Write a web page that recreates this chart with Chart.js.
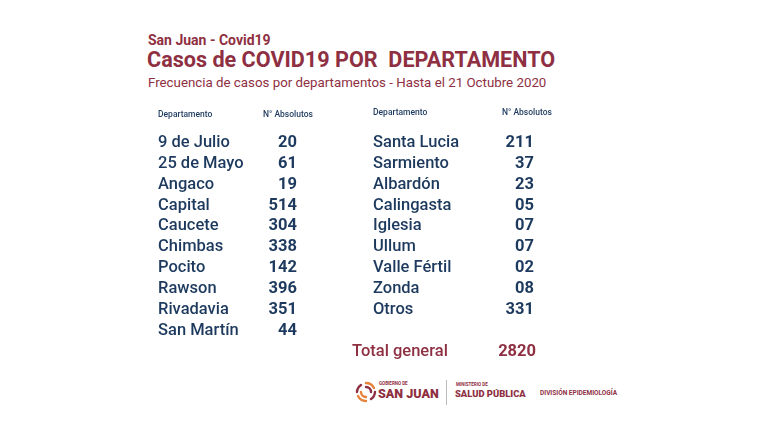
<!DOCTYPE html>
<html lang="es">
<head>
<meta charset="utf-8">
<script src="https://cdn.jsdelivr.net/npm/chart.js@4/dist/chart.umd.min.js"></script>
<style>
  html,body{margin:0;padding:0;background:#fff;}
  body{width:768px;height:439px;position:relative;overflow:hidden;font-family:Roboto,"Open Sans",sans-serif;}
  .t{position:absolute;white-space:pre;line-height:1;color:#8e2f42;}
  #wrap{position:absolute;left:140px;top:95px;width:440px;height:275px;}
</style>
</head>
<body>
<div class="t" style="left:148px;top:33px;font-size:14px;font-weight:700;">San Juan - Covid19</div>
<div class="t" style="left:147px;top:49px;font-size:21.6px;font-weight:700;">Casos de COVID19 POR  DEPARTAMENTO</div>
<div class="t" style="left:148px;top:76px;font-size:13.3px;font-weight:400;">Frecuencia de casos por departamentos - Hasta el 21 Octubre 2020</div>

<div id="wrap"><canvas id="c"></canvas></div>

<!-- footer -->
<svg style="position:absolute;left:354px;top:380px" width="24" height="24" viewBox="0 0 24 24">
  <g fill="none" stroke-width="2.4" stroke-linecap="round">
    <path d="M12 3 A9 9 0 0 1 20 8" stroke="#e8833a"/>
    <path d="M21 12 A9 9 0 0 1 17 19" stroke="#8e2f42"/>
    <path d="M12 21 A9 9 0 0 1 4 16" stroke="#e8833a"/>
    <path d="M3 12 A9 9 0 0 1 7 5" stroke="#8e2f42"/>
    <path d="M12 7 A5 5 0 0 1 17 12" stroke="#8e2f42"/>
    <path d="M12 17 A5 5 0 0 1 7 12" stroke="#e8833a"/>
  </g>
</svg>
<div class="t" style="left:379px;top:382px;font-size:4.5px;font-weight:700;">GOBIERNO DE</div>
<div class="t" style="left:378px;top:388px;font-size:12.5px;font-weight:900;">SAN JUAN</div>
<div style="position:absolute;left:446px;top:380px;width:1px;height:25px;background:#bbb;"></div>
<div class="t" style="left:456px;top:383px;font-size:4.5px;font-weight:700;">MINISTERIO DE</div>
<div class="t" style="left:455px;top:389px;font-size:9.4px;font-weight:900;">SALUD PÚBLICA</div>
<div class="t" style="left:540px;top:390px;font-size:6.5px;font-weight:700;">DIVISIÓN EPIDEMIOLOGÍA</div>

<script>
const headerDept = "Departamento";
const headerAbs = "N° Absolutos";
const leftDepts = ["9 de Julio","25 de Mayo","Angaco","Capital","Caucete","Chimbas","Pocito","Rawson","Rivadavia","San Martín"];
const leftValues = [20,61,19,514,304,338,142,396,351,44];
const rightDepts = ["Santa Lucia","Sarmiento","Albardón","Calingasta","Iglesia","Ullum","Valle Fértil","Zonda","Otros"];
const rightValues = [211,37,23,5,7,7,2,8,331];
const totalLabel = "Total general";
const totalValue = 2820;

const NAVY = "#1d3a5e";
const MAROON = "#8e2f42";

function fmt(v){ return String(v).padStart(2,"0"); }

const tablePlugin = {
  id: "tableText",
  afterDatasetsDraw(chart){
    const ctx = chart.ctx;
    const ys = chart.scales.y;
    ctx.save();
    chart.data.datasets.forEach((ds, di) => {
      const meta = chart.getDatasetMeta(di);
      const fs = ds.fontSize;
      meta.data.forEach((el, i) => {
        const baseY = el.y + fs * 0.355;
        ctx.fillStyle = ds.textColor;
        ctx.font = `${ds.nameWeight} ${fs}px Roboto`;
        ctx.textAlign = "left";
        ctx.fillText(ds.names[i], el.x + ds.nameOffset, baseY);
        ctx.font = `${ds.valueWeight} ${fs}px Roboto`;
        ctx.textAlign = "right";
        ctx.fillText(fmt(ds.values[i]), el.x + ds.valueOffset, baseY);
      });
      if (ds.header) {
        const el = meta.data[0];
        const hy = ys.getPixelForValue(ds.headerRow) + 8.5 * 0.355;
        ctx.fillStyle = NAVY;
        ctx.font = "500 8.5px Roboto";
        ctx.textAlign = "left";
        ctx.fillText(headerDept, el.x + ds.nameOffset, hy);
        ctx.fillText(headerAbs, el.x + ds.headerAbsOffset, hy);
      }
    });
    ctx.restore();
  }
};

const chart = new Chart(document.getElementById("c"), {
  type: "scatter",
  data: {
    datasets: [
      {
        data: leftDepts.map((d, i) => ({x: 0, y: i})),
        names: leftDepts, values: leftValues,
        nameOffset: 0, valueOffset: 139, headerAbsOffset: 105, header: true, headerRow: -1.3,
        fontSize: 16.5, nameWeight: 500, valueWeight: 700, textColor: NAVY,
        pointRadius: 0, pointHoverRadius: 0
      },
      {
        data: rightDepts.map((d, i) => ({x: 1, y: i})),
        names: rightDepts, values: rightValues,
        nameOffset: 0, valueOffset: 161, headerAbsOffset: 129, header: true, headerRow: -1.4,
        fontSize: 16.5, nameWeight: 500, valueWeight: 700, textColor: NAVY,
        pointRadius: 0, pointHoverRadius: 0
      },
      {
        data: [{x: 1, y: 10}],
        names: [totalLabel], values: [totalValue],
        nameOffset: -21, valueOffset: 163, header: false,
        fontSize: 16.5, nameWeight: 500, valueWeight: 700, textColor: MAROON,
        pointRadius: 0, pointHoverRadius: 0
      }
    ]
  },
  options: {
    responsive: true,
    maintainAspectRatio: false,
    animation: false,
    events: [],
    layout: { padding: { left: 18, right: 207, top: 46, bottom: 20 } },
    plugins: { legend: { display: false }, tooltip: { enabled: false } },
    scales: {
      x: { type: "linear", min: 0, max: 1, display: false },
      y: { type: "linear", min: 0, max: 10, reverse: true, display: false }
    }
  },
  plugins: [tablePlugin]
});
</script>
</body>
</html>
